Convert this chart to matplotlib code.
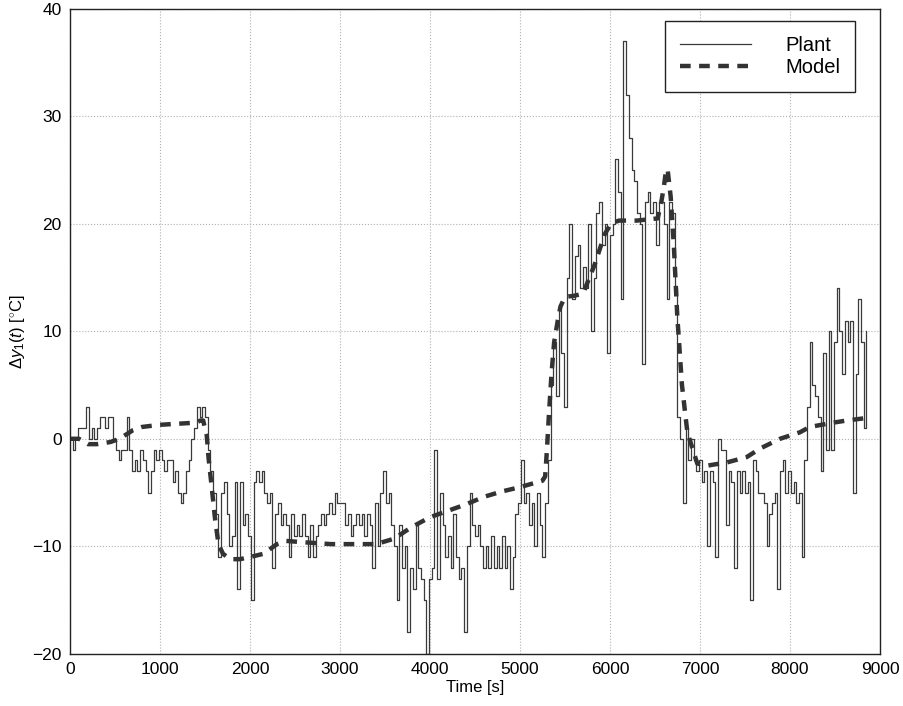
import numpy as np
import matplotlib
matplotlib.use("Agg")
import matplotlib.pyplot as plt

plt.rcParams['font.family'] = ['Liberation Sans', 'DejaVu Sans']
plt.rcParams['mathtext.fontset'] = 'custom'
plt.rcParams['mathtext.rm'] = 'Liberation Sans'
plt.rcParams['mathtext.it'] = 'Liberation Sans:italic'

# measured plant output, one sample every 30 s
dt = 30
plant_y = [
    0, -1, 0, 1, 1, 1, 3, 0, 1, 0,
    1, 2, 2, 1, 2, 2, 0, -1, -2, -1,
    -1, 2, -1, -3, -2, -3, -1, -2, -3, -5,
    -3, -1, -2, -1, -2, -3, -2, -2, -4, -3,
    -5, -6, -5, -3, -2, 0, 1, 3, 2, 3,
    2, -1, -3, -5, -7, -11, -5, -4, -7, -10,
    -9, -4, -14, -4, -8, -7, -9, -15, -4, -3,
    -4, -3, -5, -6, -5, -12, -7, -6, -8, -7,
    -8, -11, -7, -9, -8, -9, -7, -9, -11, -8,
    -11, -9, -8, -7, -8, -7, -6, -7, -5, -6,
    -6, -6, -8, -7, -9, -8, -7, -8, -7, -9,
    -7, -8, -12, -6, -10, -5, -3, -6, -5, -8,
    -10, -15, -8, -12, -10, -18, -12, -14, -8, -12,
    -13, -15, -20, -13, -12, -1, -13, -5, -8, -11,
    -9, -12, -7, -11, -13, -12, -18, -10, -5, -8,
    -9, -8, -10, -12, -10, -12, -9, -12, -10, -12,
    -9, -12, -10, -14, -11, -7, -6, -2, -6, -5,
    -8, -6, -10, -5, -8, -11, -6, -2, 5, 9,
    4, 12, 8, 3, 15, 20, 13, 17, 18, 14,
    16, 14, 20, 10, 15, 21, 22, 18, 20, 8,
    19, 20, 26, 23, 13, 37, 32, 28, 25, 24,
    21, 20, 7, 22, 23, 21, 22, 18, 22, 22,
    20, 13, 22, 21, 14, 2, 0, -6, 1, -2,
    0, -2, -3, -2, -4, -3, -10, -3, -4, -11,
    0, -1, -1, -8, -3, -4, -12, -3, -5, -3,
    -5, -4, -15, -2, -3, -5, -5, -6, -10, -7,
    -6, -5, -14, -3, -2, -5, -3, -5, -4, -6,
    -5, -11, -2, 3, 9, 5, 4, 2, -3, 8,
    -1, 10, -1, 9, 14, 10, 6, 11, 9, 11,
    -5, 6, 13, 9, 1, 10,
]
plant_t = np.arange(len(plant_y)) * dt

# model response
model_t = [0, 100, 200, 300, 450, 550, 700, 800, 1000, 1200, 1400, 1450, 1480,
           1500, 1520, 1540, 1575, 1610, 1650, 1700, 1780, 1890, 2000, 2150,
           2300, 2400, 2550, 2900, 3400, 3600, 3800, 4000, 4200, 4400, 4600,
           4800, 5000, 5250, 5280, 5300, 5320, 5350, 5380, 5420, 5450, 5500,
           5600, 5700, 5830, 5940, 6010, 6100, 6300, 6530, 6570, 6600, 6620,
           6640, 6675, 6711, 6748, 6800, 6860, 6970, 7080, 7300, 7520, 7670,
           7890, 8110, 8220, 8480, 8630, 8820]
model_y = [0, 0, -0.5, -0.5, -0.3, 0, 0.8, 1.1, 1.3, 1.4, 1.5, 1.7, 1.7,
           1.0, 0.3, -1.8, -4.5, -7.3, -9.8, -10.7, -11.2, -11.2, -11.0, -10.7,
           -9.8, -9.5, -9.6, -9.8, -9.8, -9.3, -8.2, -7.3, -6.7, -6.1, -5.4,
           -4.9, -4.5, -3.9, -3.5, -1, 2, 6, 9, 11, 12.3, 13.2,
           13.3, 13.5, 16.2, 19, 20, 20.3, 20.3, 20.5, 22, 23.5, 24.8,
           25.1, 22.5, 17.8, 11.4, 5, 0.6, -2.3, -2.5, -2.2, -1.7, -0.9,
           0, 0.6, 1.1, 1.5, 1.7, 1.9]

fig = plt.figure(figsize=(9.04, 7.06), dpi=100)
ax = fig.add_axes([0.0774, 0.074, 0.8960, 0.9135])

ax.plot(plant_t, plant_y, color='#3a3a3a', lw=0.9, drawstyle='steps-post',
        label='Plant')
ax.plot(model_t, model_y, color='#333333', lw=3.2, dashes=(2.4, 1.9),
        label='Model')

ax.set_xlim(0, 9000)
ax.set_ylim(-20, 40)
ax.set_xticks(np.arange(0, 9001, 1000))
ax.set_yticks(np.arange(-20, 41, 10))
ax.tick_params(direction='in', length=0, labelsize=12.5, pad=6)
ax.grid(True, color='#b0b0b0', linestyle=':', linewidth=0.8)
for s in ax.spines.values():
    s.set_linewidth(1.0)
    s.set_color('#222222')

ax.set_xlabel('Time [s]', fontsize=12, labelpad=2)
ax.set_ylabel(r'$\Delta y_1(t)$ [$^{\circ}$C]', fontsize=12, labelpad=4)

leg = ax.legend(loc='upper right', bbox_to_anchor=(0.977, 0.99),
                fontsize=14.5, handlelength=3.5, handletextpad=1.7,
                borderpad=0.75, labelspacing=0.12, fancybox=False,
                framealpha=1, edgecolor='#222222', borderaxespad=0.3)
leg.get_frame().set_linewidth(1.0)

fig.savefig('out.png', dpi=100, facecolor='white')
